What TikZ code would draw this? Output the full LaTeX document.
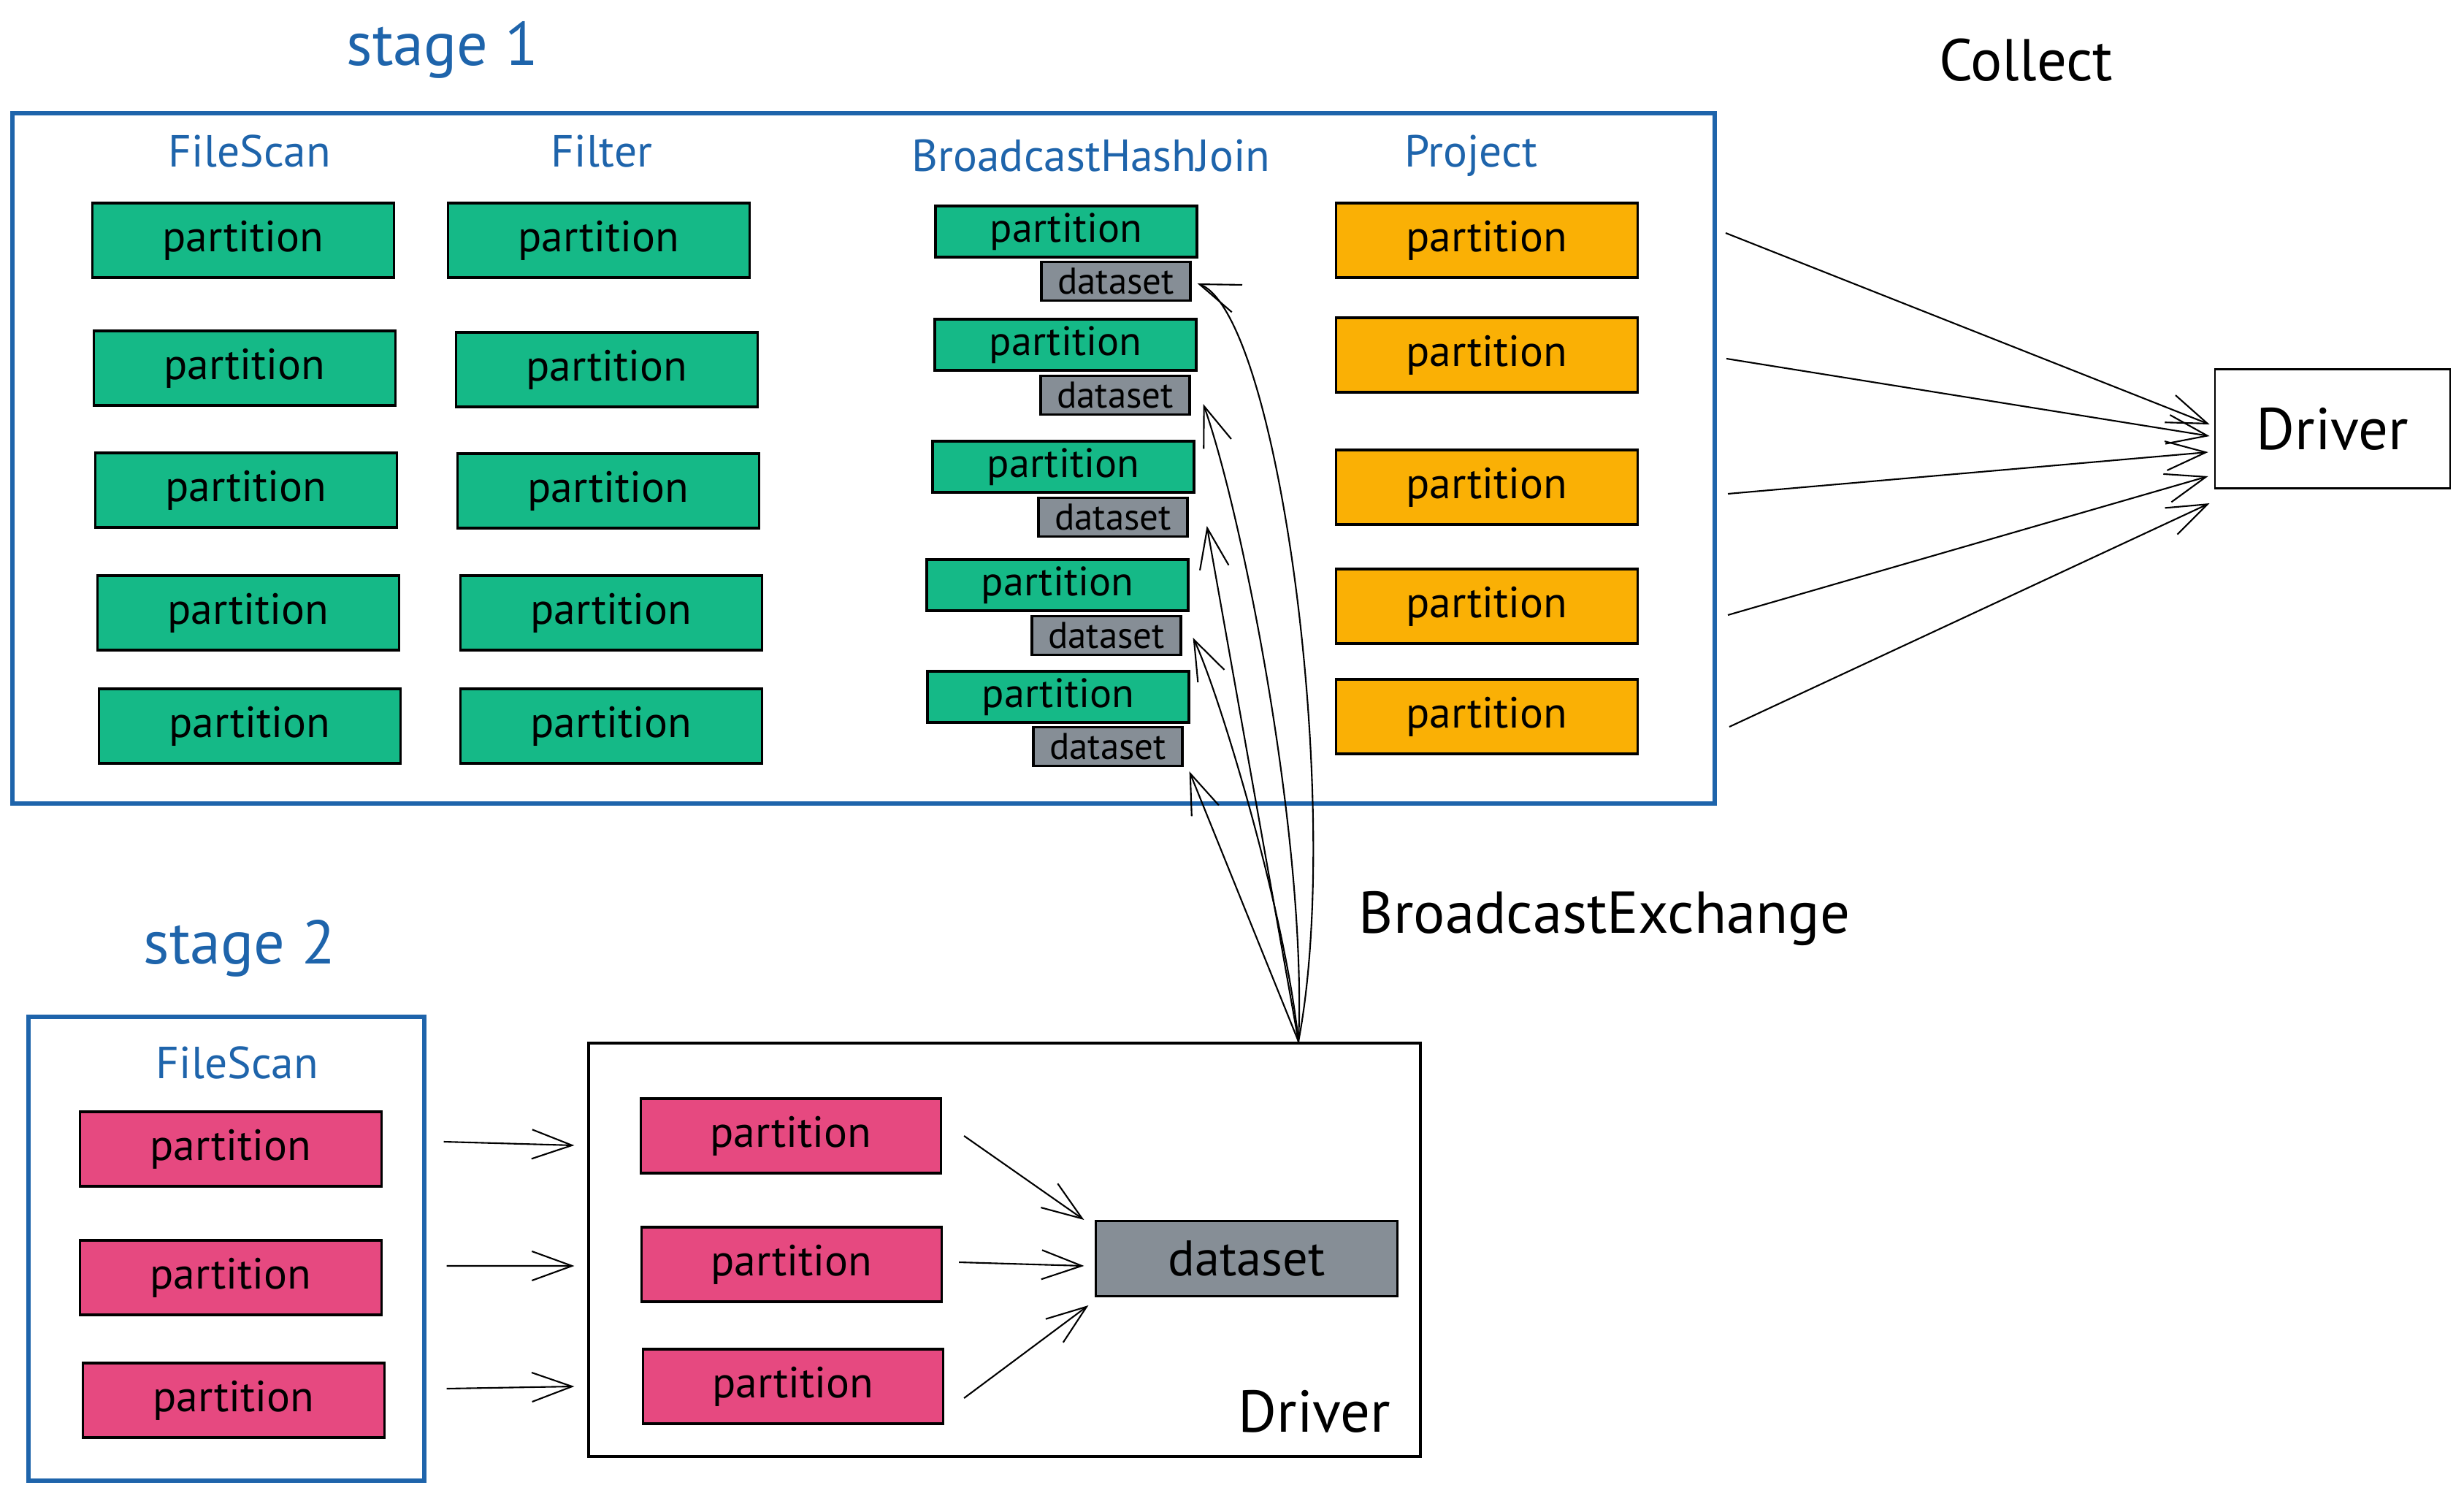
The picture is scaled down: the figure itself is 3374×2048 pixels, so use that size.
\documentclass[tikz,border=0pt]{standalone}
\usepackage{fontspec}
\setmainfont{PT Sans}
\usetikzlibrary{arrows.meta}
\definecolor{stgblue}{HTML}{1E64AB}
\definecolor{prtgreen}{HTML}{15B987}
\definecolor{prtorange}{HTML}{FAB005}
\definecolor{prtpink}{HTML}{E64980}
\definecolor{dsgray}{HTML}{868E96}
\begin{document}
\begin{tikzpicture}[x=.1mm, y=-.1mm,
  part/.style={draw, line width=.9pt, inner sep=0pt, minimum width=41.3mm, minimum height=10.2mm, font=\fontsize{17}{20}\selectfont},
  bjpart/.style={part, fill=prtgreen, minimum width=35.8mm, minimum height=7mm, font=\fontsize{16}{19}\selectfont},
  dsmall/.style={part, fill=dsgray, minimum width=20.4mm, minimum height=5.3mm, font=\fontsize{14.5}{17}\selectfont},
  hdr/.style={text=stgblue, font=\fontsize{17.5}{20}\selectfont},
  ttl/.style={text=stgblue, font=\fontsize{24}{28}\selectfont},
  lbl/.style={font=\fontsize{23}{27}\selectfont},
  stg/.style={draw=stgblue, line width=1.6pt, inner sep=0pt},
  arr/.style={-{Straight Barb[length=5.5mm,width=4mm]}, line width=.6pt}]
\useasboundingbox[fill=white] (0,0) rectangle (3374,2048);
\node[ttl] (t1) at (606,68) {stage 1};
\node[stg, minimum width=233.1mm, minimum height=94.5mm] (st1) at (1182.5,627.5) {};
\node[hdr] (hfs) at (342,207) {FileScan};
\node[hdr] (hfl) at (824,207) {Filter};
\node[hdr] (hbj) at (1494,213) {BroadcastHashJoin};
\node[hdr] (hpj) at (2014,213) {Project};
\node[part, fill=prtgreen] (fs0) at (333,329) {partition};
\node[part, fill=prtgreen] (fs1) at (335,504) {partition};
\node[part, fill=prtgreen] (fs2) at (337,671) {partition};
\node[part, fill=prtgreen] (fs3) at (340,839) {partition};
\node[part, fill=prtgreen] (fs4) at (342,994) {partition};
\node[part, fill=prtgreen] (fl0) at (820,329) {partition};
\node[part, fill=prtgreen] (fl1) at (831,506) {partition};
\node[part, fill=prtgreen] (fl2) at (833,672) {partition};
\node[part, fill=prtgreen] (fl3) at (837,839) {partition};
\node[part, fill=prtgreen] (fl4) at (837,994) {partition};
\node[bjpart] (bj0) at (1460,317) {partition};
\node[dsmall] (ds0) at (1528,385) {dataset};
\node[bjpart] (bj1) at (1459,472) {partition};
\node[dsmall] (ds1) at (1527,541) {dataset};
\node[bjpart] (bj2) at (1456,639) {partition};
\node[dsmall] (ds2) at (1524,708) {dataset};
\node[bjpart] (bj3) at (1448,801) {partition};
\node[dsmall] (ds3) at (1515,870) {dataset};
\node[bjpart] (bj4) at (1449,954) {partition};
\node[dsmall] (ds4) at (1517,1022) {dataset};
\node[part, fill=prtorange] (pj0) at (2036,329) {partition};
\node[part, fill=prtorange] (pj1) at (2036,486) {partition};
\node[part, fill=prtorange] (pj2) at (2036,667) {partition};
\node[part, fill=prtorange] (pj3) at (2036,830) {partition};
\node[part, fill=prtorange] (pj4) at (2036,981) {partition};
\node[lbl] (tcl) at (2774,82) {Collect};
\node[draw, line width=.8pt, inner sep=0pt, minimum width=32.2mm, minimum height=16.3mm, lbl] (drv) at (3194,587) {Driver};
\coordinate (cl0) at (2363,319);
\coordinate (cl1) at (2364,491);
\coordinate (cl2) at (2366,676);
\coordinate (cl3) at (2366,842);
\coordinate (cl4) at (2368,995);
\draw[arr] (cl0) -- ([xshift=-.6mm,yshift=.6mm]drv.west);
\draw[arr] (cl1) -- ([xshift=-.6mm,yshift=-1mm]drv.west);
\draw[arr] (cl2) -- ([xshift=-.8mm,yshift=-3.2mm]drv.west);
\draw[arr] (cl3) -- ([xshift=-.8mm,yshift=-6.5mm]drv.west);
\draw[arr] (cl4) -- ([xshift=-.6mm,yshift=-10.2mm]drv.west);
\node[ttl] (t2) at (328,1298) {stage 2};
\node[stg, minimum width=54.2mm, minimum height=63.5mm] (st2) at (310,1709.5) {};
\node[hdr] (hfs2) at (325,1455) {FileScan};
\node[part, fill=prtpink] (sp0) at (316,1573) {partition};
\node[part, fill=prtpink] (sp1) at (316,1749) {partition};
\node[part, fill=prtpink] (sp2) at (320,1917) {partition};
\node[draw, line width=1.3pt, inner sep=0pt, minimum width=113.9mm, minimum height=56.6mm] (dr2) at (1375.5,1711) {};
\node[lbl] (dl2) at (1800,1932) {Driver};
\node[part, fill=prtpink, minimum width=41.1mm] (dp0) at (1083,1555) {partition};
\node[part, fill=prtpink, minimum width=41.1mm] (dp1) at (1084,1731) {partition};
\node[part, fill=prtpink, minimum width=41.1mm] (dp2) at (1086,1898) {partition};
\node[part, fill=dsgray, minimum height=10.3mm, font=\fontsize{19.5}{23}\selectfont] (dsd) at (1707,1723) {dataset};
\draw[arr] ([xshift=8.35mm,yshift=1mm]sp0.east) -- ([xshift=-8.95mm,yshift=-1.3mm]dp0.west);
\draw[arr] ([xshift=8.75mm,yshift=1.6mm]sp1.east) -- ([xshift=-9.05mm,yshift=-.2mm]dp1.west);
\draw[arr] ([xshift=8.35mm,yshift=1.6mm]sp2.east) -- ([xshift=-9.25mm]dp2.west);
\draw[arr] ([xshift=3mm]dp0.east) -- ([xshift=-1.45mm,yshift=5.3mm]dsd.west);
\draw[arr] ([xshift=2.2mm,yshift=.3mm]dp1.east) -- ([xshift=-1.45mm,yshift=-1mm]dsd.west);
\draw[arr] ([xshift=2.7mm,yshift=-1.6mm]dp2.east) -- ([xshift=-.85mm,yshift=-6.4mm]dsd.west);
\node[lbl] (tbx) at (2197,1257) {BroadcastExchange};
\draw[arr] ([xshift=40.25mm]dr2.north) .. controls (1840,1100) and (1750,430) .. ([xshift=.8mm,yshift=-.3mm]ds0.east);
\draw[arr] ([xshift=40.25mm]dr2.north) .. controls (1790,1150) and (1700,700) .. ([xshift=1.7mm,yshift=-1.2mm]ds1.east);
\draw[arr] ([xshift=40.25mm]dr2.north) -- ([xshift=2.5mm,yshift=-1.2mm]ds2.east);
\draw[arr] ([xshift=40.25mm]dr2.north) .. controls (1760,1250) and (1670,950) .. ([xshift=1.5mm,yshift=-.3mm]ds3.east);
\draw[arr] ([xshift=40.25mm]dr2.north) -- ([xshift=.8mm,yshift=-3.4mm]ds4.east);
\end{tikzpicture}
\end{document}
